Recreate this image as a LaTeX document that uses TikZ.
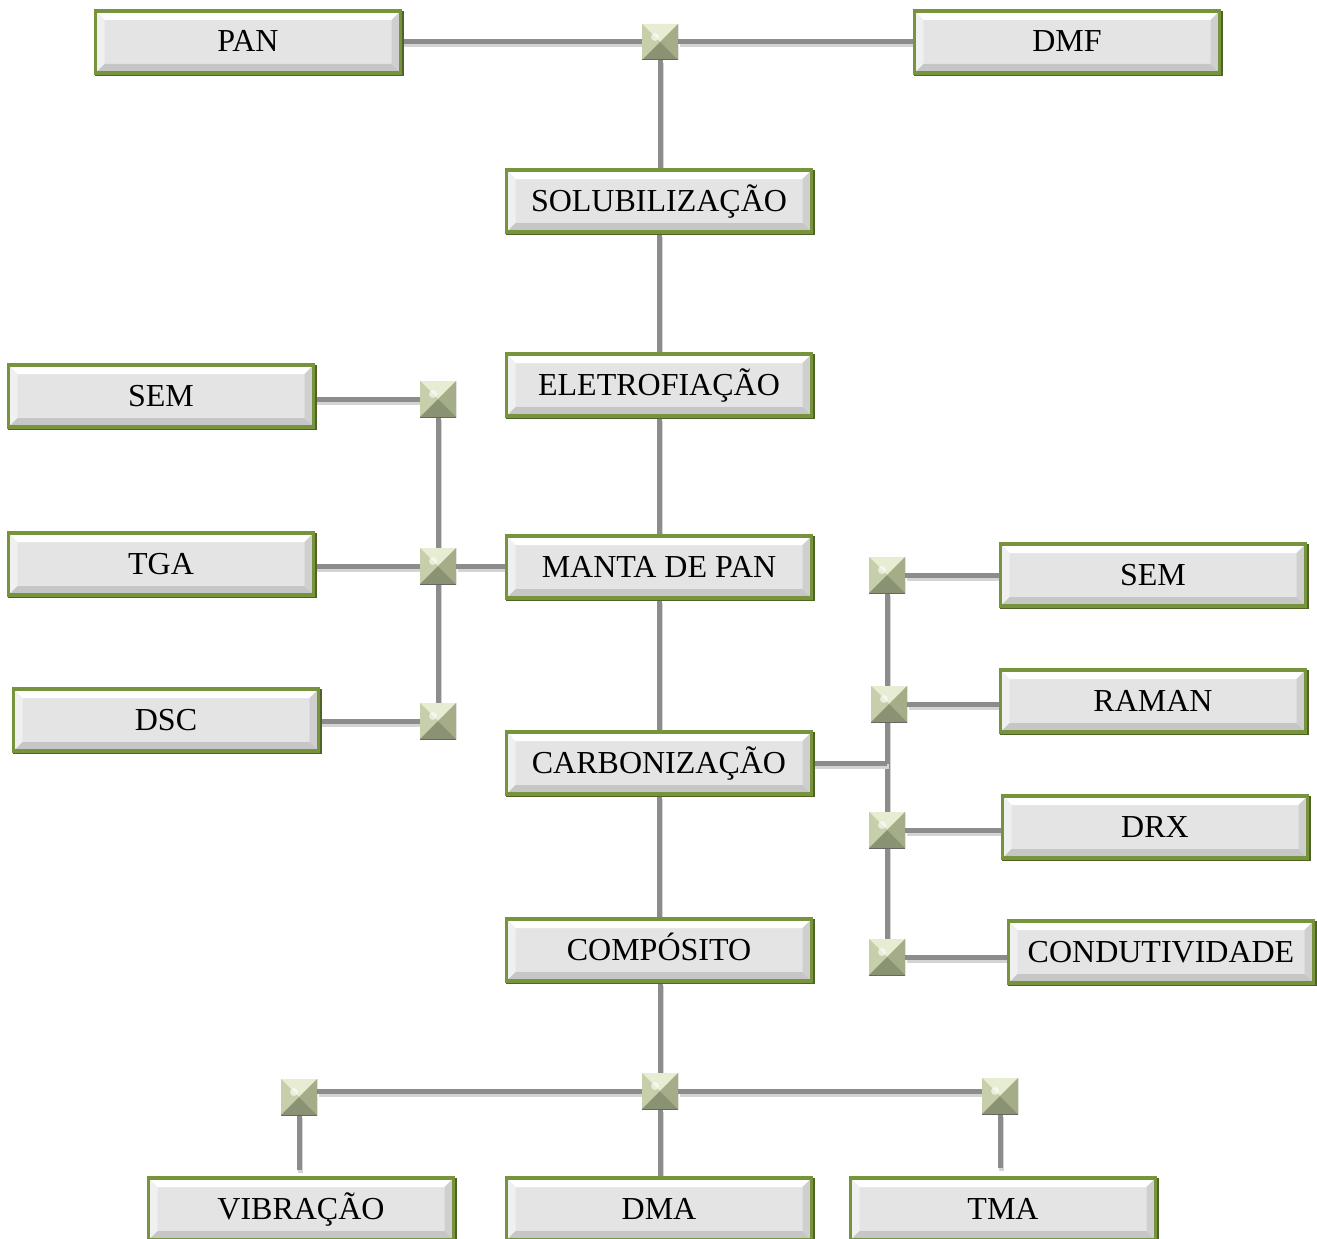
\documentclass[tikz,border=0pt]{standalone}
\usepackage{fontspec}
\setmainfont{Liberation Serif}
\pgfdeclarelayer{background}
\pgfsetlayers{background,main}
\definecolor{bordergreen}{HTML}{77933C}
\definecolor{darkgreen}{HTML}{4F6228}
\definecolor{boxfill}{HTML}{E4E4E4}
\definecolor{linegray}{HTML}{8C8C8C}
\definecolor{shadowgray}{HTML}{D4D4D4}
\definecolor{pyrtop}{HTML}{E6EDD2}
\definecolor{pyrleft}{HTML}{C6CEAA}
\definecolor{pyrright}{HTML}{A4AC88}
\definecolor{pyrbottom}{HTML}{8A9274}
\tikzset{
  box/.style={minimum width=305pt, minimum height=62pt, inner sep=0pt,
    text height=20pt, text depth=0pt,
    font=\fontsize{32}{38}\selectfont,
    draw=bordergreen, line width=3.5pt, fill=boxfill,
    preaction={draw=darkgreen, line width=3.5pt, transform canvas={shift={(1.5pt,-1.5pt)}}},
    path picture={
      \fill[white] (path picture bounding box.north west) -- (path picture bounding box.north east)
        -- ([xshift=-9pt,yshift=-9pt]path picture bounding box.north east)
        -- ([xshift=9pt,yshift=-9pt]path picture bounding box.north west) -- cycle;
      \fill[gray!12] (path picture bounding box.north west) -- (path picture bounding box.south west)
        -- ([xshift=9pt,yshift=9pt]path picture bounding box.south west)
        -- ([xshift=9pt,yshift=-9pt]path picture bounding box.north west) -- cycle;
      \fill[gray!45] (path picture bounding box.south west) -- (path picture bounding box.south east)
        -- ([xshift=-9pt,yshift=9pt]path picture bounding box.south east)
        -- ([xshift=9pt,yshift=9pt]path picture bounding box.south west) -- cycle;
      \fill[gray!38] (path picture bounding box.north east) -- (path picture bounding box.south east)
        -- ([xshift=-9pt,yshift=9pt]path picture bounding box.south east)
        -- ([xshift=-9pt,yshift=-9pt]path picture bounding box.north east) -- cycle;
    }},
  junc/.style={minimum size=36pt, inner sep=0pt, fill=pyrleft,
    path picture={
      \fill[pyrtop] (path picture bounding box.north west) -- (path picture bounding box.north east) -- (path picture bounding box.center) -- cycle;
      \fill[pyrleft] (path picture bounding box.north west) -- (path picture bounding box.south west) -- (path picture bounding box.center) -- cycle;
      \fill[pyrright] (path picture bounding box.north east) -- (path picture bounding box.south east) -- (path picture bounding box.center) -- cycle;
      \fill[pyrbottom] (path picture bounding box.south west) -- (path picture bounding box.south east) -- (path picture bounding box.center) -- cycle;
      \fill[white,opacity=0.6] ([xshift=-5pt,yshift=5pt]path picture bounding box.center) circle (4pt);
      \draw[black!60,line width=1pt] (path picture bounding box.north east) -- (path picture bounding box.south east) -- (path picture bounding box.south west);
    }},
  conn/.style={draw=linegray, line width=5pt,
    preaction={draw=shadowgray, line width=5pt, transform canvas={shift={(1.5pt,-3pt)}}}}
}
\begin{document}
\begin{tikzpicture}[x=1pt,y=-1pt]
\useasboundingbox (0,0) rectangle (1317,1239);
% main column
\node[box] (PAN) at (248,42) {PAN};
\node[box] (DMF) at (1067,42) {DMF};
\node[box] (SOL) at (659,201) {SOLUBILIZAÇÃO};
\node[box] (ELE) at (659,385) {ELETROFIAÇÃO};
\node[box] (MAN) at (659,567) {MANTA DE PAN};
\node[box] (CAR) at (659,763) {CARBONIZAÇÃO};
\node[box] (COM) at (659,950) {COMPÓSITO};
\node[box] (VIB) at (301,1209) {VIBRAÇÃO};
\node[box] (DMA) at (659,1209) {DMA};
\node[box] (TMA) at (1003,1209) {TMA};
% left
\node[box] (SEML) at (161,396) {SEM};
\node[box] (TGA) at (161,564) {TGA};
\node[box] (DSC) at (166,720) {DSC};
% right
\node[box] (SEMR) at (1153,575) {SEM};
\node[box] (RAM) at (1153,701) {RAMAN};
\node[box] (DRX) at (1155,827) {DRX};
\node[box] (CON) at (1161,952) {CONDUTIVIDADE};
% junctions
\node[junc] (jt) at (660,42) {};
\node[junc] (jl1) at (438,399) {};
\node[junc] (jl2) at (438,566) {};
\node[junc] (jl3) at (438,721) {};
\node[junc] (jr1) at (887,575) {};
\node[junc] (jr2) at (889,704) {};
\node[junc] (jr3) at (887,830) {};
\node[junc] (jr4) at (887,957) {};
\node[junc] (jbl) at (299,1097) {};
\node[junc] (jb) at (660,1091) {};
\node[junc] (jbr) at (1000,1096) {};
\coordinate (vl) at (299,1170);
\coordinate (vr) at (1000,1168);
\begin{pgfonlayer}{background}
\draw[conn] (jt.west) -- (jt.west -| PAN.east);
\draw[conn] (jt.east) -- (jt.east -| DMF.west);
\draw[conn] (jt.south) -- (jt.south |- SOL.north);
\draw[conn] (SOL) -- (ELE);
\draw[conn] (ELE) -- (MAN);
\draw[conn] (MAN) -- (CAR);
\draw[conn] (CAR) -- (COM);
\draw[conn] (jb.north) -- (jb.north |- COM.south);
\draw[conn] (jb.south) -- (jb.south |- DMA.north);
\draw[conn] (jb.west) -- (jb.west -| jbl.east);
\draw[conn] (jb.east) -- (jb.east -| jbr.west);
\draw[conn] (jbl.south) -- (vl);
\draw[conn] (jbr.south) -- (vr);
\draw[conn] (jl1.south) -- (jl3.north);
\draw[conn] (jl1.west) -- (jl1.west -| SEML.east);
\draw[conn] (jl2.west) -- (jl2.west -| TGA.east);
\draw[conn] (jl2.east) -- (jl2.east -| MAN.west);
\draw[conn] (jl3.west) -- (jl3.west -| DSC.east);
\draw[conn] (jr1.south) -- (jr4.north);
\draw[conn] (CAR.east) -- (CAR.east -| jr1.center);
\draw[conn] (jr1.east) -- (jr1.east -| SEMR.west);
\draw[conn] (jr2.east) -- (jr2.east -| RAM.west);
\draw[conn] (jr3.east) -- (jr3.east -| DRX.west);
\draw[conn] (jr4.east) -- (jr4.east -| CON.west);
\end{pgfonlayer}
\end{tikzpicture}
\end{document}
